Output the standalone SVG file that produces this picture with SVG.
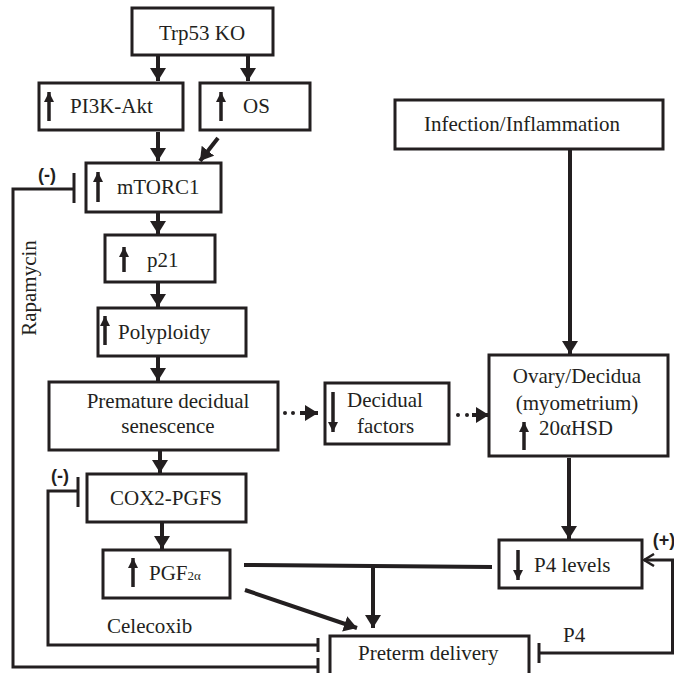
<svg xmlns="http://www.w3.org/2000/svg" width="674" height="673" viewBox="0 0 674 673">
<style>
.box{fill:#fff;stroke:#231f20;stroke-width:3}
.t{font-family:"Liberation Serif","Times New Roman",serif;font-size:21px;fill:#231f20}
.s{font-family:"Liberation Sans",Arial,sans-serif;font-size:18px;font-weight:bold;fill:#231f20}
.c{fill:none;stroke:#231f20;stroke-width:4}
.thin{fill:none;stroke:#231f20;stroke-width:3}
.ua{fill:none;stroke:#231f20;stroke-width:3.5}
.dot{fill:#231f20}
</style>
<defs>
<marker id="ah" viewBox="0 0 13 16" refX="13" refY="8" markerWidth="13" markerHeight="16" markerUnits="userSpaceOnUse" orient="auto">
<path d="M0,0 L13,8 L0,16 z" fill="#231f20"/>
</marker>
<marker id="sa" viewBox="0 0 10 10" refX="10" refY="5" markerWidth="10" markerHeight="10" markerUnits="userSpaceOnUse" orient="auto">
<path d="M0,0 L10,5 L0,10 z" fill="#231f20"/>
</marker>
<marker id="oa" viewBox="0 0 12 14" refX="11" refY="7" markerWidth="12" markerHeight="14" markerUnits="userSpaceOnUse" orient="auto">
<path d="M1,1 L11,7 L1,13" fill="none" stroke="#231f20" stroke-width="2.5"/>
</marker>
</defs>

<g id="connectors">
<line class="c" x1="158" y1="56" x2="158" y2="81" marker-end="url(#ah)"/>
<line class="c" x1="248" y1="56" x2="248" y2="81" marker-end="url(#ah)"/>
<line class="c" x1="158" y1="132" x2="158" y2="161" marker-end="url(#ah)"/>
<line class="c" x1="218" y1="138" x2="200" y2="161" marker-end="url(#ah)"/>
<line class="c" x1="158" y1="213" x2="158" y2="234" marker-end="url(#ah)"/>
<line class="c" x1="158" y1="283" x2="158" y2="307" marker-end="url(#ah)"/>
<line class="c" x1="158" y1="357" x2="158" y2="381" marker-end="url(#ah)"/>
<line class="c" x1="160" y1="451" x2="160" y2="473" marker-end="url(#ah)"/>
<line class="c" x1="162" y1="523" x2="162" y2="549" marker-end="url(#ah)"/>
<circle class="dot" cx="285" cy="413" r="2"/>
<circle class="dot" cx="293" cy="413" r="2"/>
<line class="c" x1="300" y1="413" x2="318" y2="413" stroke-width="0" marker-end="url(#ah)"/>
<circle class="dot" cx="458" cy="415" r="2"/>
<circle class="dot" cx="467" cy="415" r="2"/>
<line class="c" x1="472" y1="415" x2="489" y2="415" stroke-width="0" marker-end="url(#ah)"/>
<line class="c" x1="570" y1="150" x2="570" y2="354" marker-end="url(#ah)"/>
<line class="c" x1="569" y1="458" x2="569" y2="539" marker-end="url(#ah)"/>
<line class="c" x1="244" y1="565" x2="492" y2="567"/>
<line class="c" x1="373" y1="566" x2="373" y2="628" marker-end="url(#ah)"/>
<line class="c" x1="245" y1="590" x2="357" y2="628" marker-end="url(#ah)"/>
<path class="thin" d="M539,653 H672.5 V560 H644" marker-end="url(#oa)"/>
<line class="thin" x1="539" y1="643" x2="539" y2="663"/>
<path class="thin" d="M74,189 H13 V667 H318"/>
<line class="thin" x1="74" y1="173" x2="74" y2="203"/>
<line class="thin" x1="318" y1="658" x2="318" y2="673"/>
<path class="thin" d="M78,491 H48 V645 H318"/>
<line class="thin" x1="78" y1="477" x2="78" y2="507"/>
<line class="thin" x1="318" y1="638" x2="318" y2="652"/>
<text class="s" x="47" y="181" text-anchor="middle">(-)</text>
<text class="s" x="60" y="482" text-anchor="middle">(-)</text>
<text class="s" x="664" y="546" text-anchor="middle">(+)</text>
<text class="t" x="563" y="642">P4</text>
<text class="t" x="107" y="633">Celecoxib</text>
<text class="t" transform="translate(36,288) rotate(-90)" text-anchor="middle">Rapamycin</text>
</g>

<g id="trp53">
<rect class="box" x="132" y="8" width="141" height="47"/>
<text class="t" x="202" y="40" text-anchor="middle">Trp53 KO</text>
</g>
<g id="pi3k">
<rect class="box" x="39" y="83" width="144" height="47"/>
<line class="ua" x1="49" y1="121" x2="49" y2="92" marker-end="url(#sa)"/>
<text class="t" x="70" y="113">PI3K-Akt</text>
</g>
<g id="os">
<rect class="box" x="200" y="83" width="110" height="47"/>
<line class="ua" x1="221" y1="121" x2="221" y2="92" marker-end="url(#sa)"/>
<text class="t" x="243" y="113">OS</text>
</g>
<g id="mtorc1">
<rect class="box" x="86" y="163" width="135" height="49"/>
<line class="ua" x1="98" y1="202" x2="98" y2="172" marker-end="url(#sa)"/>
<text class="t" x="117" y="194">mTORC1</text>
</g>
<g id="p21">
<rect class="box" x="105" y="235" width="110" height="47"/>
<line class="ua" x1="124" y1="272" x2="124" y2="247" marker-end="url(#sa)"/>
<text class="t" x="147" y="267">p21</text>
</g>
<g id="polyploidy">
<rect class="box" x="98" y="308" width="148" height="48"/>
<line class="ua" x1="105" y1="345" x2="105" y2="316" marker-end="url(#sa)"/>
<text class="t" x="118" y="339">Polyploidy</text>
</g>
<g id="premature">
<rect class="box" x="49" y="382" width="229" height="68"/>
<text class="t" x="168" y="408" text-anchor="middle">Premature decidual</text>
<text class="t" x="168" y="433" text-anchor="middle">senescence</text>
</g>
<g id="decidual">
<rect class="box" x="325" y="383" width="124" height="61"/>
<line class="ua" x1="333" y1="392" x2="333" y2="432" marker-end="url(#sa)"/>
<text class="t" x="347" y="407">Decidual</text>
<text class="t" x="357" y="433">factors</text>
</g>
<g id="infection">
<rect class="box" x="395" y="100" width="268" height="49"/>
<text class="t" x="522" y="131" text-anchor="middle">Infection/Inflammation</text>
</g>
<g id="ovary">
<rect class="box" x="489" y="355" width="179" height="101"/>
<text class="t" x="577" y="383" text-anchor="middle">Ovary/Decidua</text>
<text class="t" x="577" y="410" text-anchor="middle">(myometrium)</text>
<line class="ua" x1="524" y1="450" x2="524" y2="422" marker-end="url(#sa)"/>
<text class="t" x="539" y="435">20αHSD</text>
</g>
<g id="cox2">
<rect class="box" x="87" y="474" width="159" height="48"/>
<text class="t" x="166" y="505" text-anchor="middle">COX2-PGFS</text>
</g>
<g id="pgf">
<rect class="box" x="103" y="550" width="127" height="48"/>
<line class="ua" x1="133" y1="587" x2="133" y2="558" marker-end="url(#sa)"/>
<text class="t" x="149" y="580">PGF<tspan font-size="13">2α</tspan></text>
</g>
<g id="p4levels">
<rect class="box" x="499" y="540" width="143" height="48"/>
<line class="ua" x1="518" y1="550" x2="518" y2="580" marker-end="url(#sa)"/>
<text class="t" x="534" y="572">P4 levels</text>
</g>
<g id="preterm">
<rect class="box" x="330" y="636" width="199" height="39"/>
<text class="t" x="358" y="660">Preterm delivery</text>
</g>
</svg>
